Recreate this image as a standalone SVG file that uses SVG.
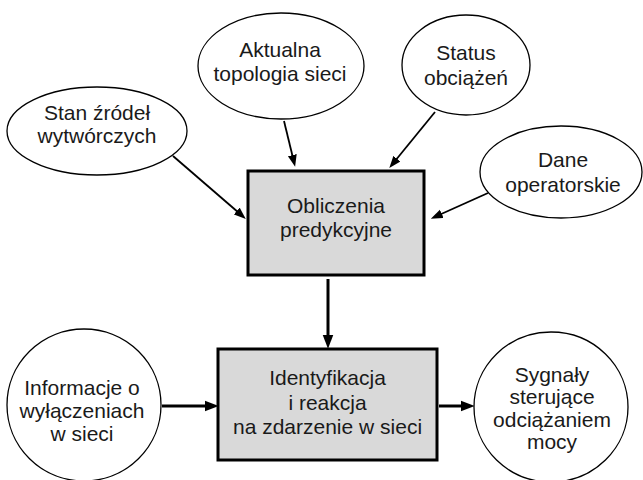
<svg xmlns="http://www.w3.org/2000/svg" width="643" height="480" viewBox="0 0 643 480">
<defs>
<style>
.el{fill:#fff;stroke:#000;stroke-width:1.3}
.bx{fill:#d9d9d9;stroke:#000;stroke-width:3}
text{font-family:"Liberation Sans",Arial,sans-serif;font-size:21px;fill:#1a1a1a;text-anchor:middle}
.thin{stroke:#000;stroke-width:1.8;fill:none}
.thick{stroke:#000;stroke-width:3;fill:none}
</style>
<marker id="ah" markerUnits="userSpaceOnUse" markerWidth="14" markerHeight="12" refX="4" refY="5" orient="auto" viewBox="0 0 13 10">
<path d="M0,0 L13,5 L0,10 z" fill="#000"/>
</marker>
<marker id="ahs" markerUnits="userSpaceOnUse" markerWidth="12" markerHeight="10" refX="3" refY="4.5" orient="auto" viewBox="0 0 12 9">
<path d="M0,0 L12,4.5 L0,9 z" fill="#000"/>
</marker>
</defs>
<rect width="643" height="480" fill="#fff"/>
<g id="connectors">
<line class="thin" x1="173" y1="156" x2="239" y2="213" marker-end="url(#ahs)"/>
<line class="thin" x1="284" y1="121" x2="293" y2="158" marker-end="url(#ahs)"/>
<line class="thin" x1="435" y1="112" x2="395" y2="161" marker-end="url(#ahs)"/>
<line class="thin" x1="488" y1="193" x2="439" y2="215" marker-end="url(#ahs)"/>
<line class="thick" x1="328" y1="279" x2="328" y2="339" marker-end="url(#ah)"/>
<line class="thick" x1="162" y1="406" x2="209" y2="406" marker-end="url(#ah)"/>
<line class="thick" x1="439" y1="406" x2="465" y2="406" marker-end="url(#ah)"/>
</g>
<g id="stan">
<ellipse class="el" cx="97" cy="131" rx="90" ry="44"/>
<text x="97" y="120">Stan źródeł</text>
<text x="97" y="143">wytwórczych</text>
</g>
<g id="aktualna">
<ellipse class="el" cx="281" cy="66" rx="83" ry="53"/>
<text x="280" y="57">Aktualna</text>
<text x="280" y="81">topologia sieci</text>
</g>
<g id="status">
<ellipse class="el" cx="466" cy="65" rx="64" ry="50"/>
<text x="466" y="60">Status</text>
<text x="466" y="85">obciążeń</text>
</g>
<g id="dane">
<ellipse class="el" cx="561" cy="172" rx="81" ry="46"/>
<text x="563" y="167">Dane</text>
<text x="563" y="192">operatorskie</text>
</g>
<g id="obliczenia">
<rect class="bx" x="248" y="171" width="176" height="104"/>
<text x="336" y="213">Obliczenia</text>
<text x="336" y="237">predykcyjne</text>
</g>
<g id="identyfikacja">
<rect class="bx" x="218" y="349" width="219" height="111"/>
<text x="327.5" y="385">Identyfikacja</text>
<text x="327.5" y="410">i reakcja</text>
<text x="327.5" y="434">na zdarzenie w sieci</text>
</g>
<g id="informacje">
<ellipse class="el" cx="84" cy="405" rx="77" ry="76"/>
<text x="82" y="395">Informacje o</text>
<text x="82" y="418">wyłączeniach</text>
<text x="82" y="441">w sieci</text>
</g>
<g id="sygnaly">
<ellipse class="el" cx="551" cy="407" rx="77" ry="75"/>
<text x="552" y="382">Sygnały</text>
<text x="552" y="404">sterujące</text>
<text x="552" y="427">odciążaniem</text>
<text x="552" y="449">mocy</text>
</g>
</svg>
